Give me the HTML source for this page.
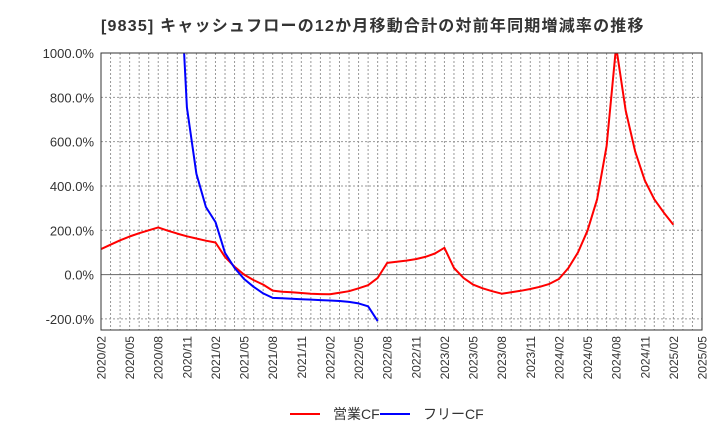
<!DOCTYPE html>
<html><head><meta charset="utf-8"><style>
body{margin:0;background:#fff;font-family:"Liberation Sans","Noto Sans CJK JP",sans-serif}
</style></head><body>
<svg width="720" height="440" xmlns="http://www.w3.org/2000/svg" font-family="Liberation Sans, Noto Sans CJK JP, sans-serif">
<text x="101" y="31" font-size="16" font-weight="bold" fill="#333" letter-spacing="1.2">[9835]  キャッシュフローの12か月移動合計の対前年同期増減率の推移</text>
<defs><clipPath id="pc"><rect x="101" y="53" width="601" height="277"/></clipPath></defs>
<g id="grid"></g><g id="axes"></g>
<g id="series" clip-path="url(#pc)"></g>
<rect x="101" y="53" width="601" height="277" fill="none" stroke="#333" stroke-width="1"/>
<g>
<line x1="290" y1="414" x2="320" y2="414" stroke="#f00" stroke-width="2"/>
<text x="333" y="419" font-size="14" fill="#333">営業CF</text>
<line x1="380" y1="414" x2="410" y2="414" stroke="#00f" stroke-width="2"/>
<text x="423" y="419" font-size="14" fill="#333">フリーCF</text>
</g>
</svg>
<script>
const xLabels=["2020/02","2020/05","2020/08","2020/11","2021/02","2021/05","2021/08","2021/11","2022/02","2022/05","2022/08","2022/11","2023/02","2023/05","2023/08","2023/11","2024/02","2024/05","2024/08","2024/11","2025/02","2025/05"];
const yTicks=[-200,0,200,400,600,800,1000];
const opCF=[115,135,155,172,187,200,213,198,185,173,163,153,145,80,35,0,-25,-45,-72,-77,-80,-83,-86,-88,-89,-82,-75,-62,-48,-15,53,58,63,70,80,95,121,30,-15,-45,-62,-75,-86,-80,-73,-65,-55,-42,-20,30,100,198,340,580,1030,740,555,425,340,280,225];
const freeCF=[null,null,null,null,null,null,null,null,1600,755,455,305,237,98,30,-20,-55,-85,-105,-107,-109,-111,-113,-115,-117,-119,-123,-130,-143,-210];
const X0=101,X1=702,Y0=330,Y1=53,NM=63,YMIN=-250,YMAX=1000;
const xs=i=>X0+(X1-X0)*i/NM;
const ys=v=>Y0-(v-YMIN)/(YMAX-YMIN)*(Y0-Y1);
const NS="http://www.w3.org/2000/svg";
function mk(t,a,p){const e=document.createElementNS(NS,t);for(const k in a)e.setAttribute(k,a[k]);p.appendChild(e);return e;}
const grid=document.getElementById('grid'),axes=document.getElementById('axes'),ser=document.getElementById('series');
for(let m=1;m<NM;m++){const l=mk('line',{x1:xs(m),x2:xs(m),y1:Y1,y2:Y0,stroke:'#999','stroke-dasharray':'2,2','stroke-width':1},grid);

}
yTicks.forEach(v=>{const y=ys(v);const l=mk('line',{x1:X0,x2:X1,y1:y,y2:y,stroke:v===0?'#666':'#999','stroke-dasharray':v===0?'':'2,2','stroke-width':1},grid);


const t=mk('text',{x:X0-7,y:y+5,'text-anchor':'end','font-size':13,fill:'#333'},axes);t.textContent=v.toFixed(1)+'%';

});
xLabels.forEach((s,i)=>{const x=xs(i*3);const t=mk('text',{x:0,y:0,transform:`translate(${x+4.5},336) rotate(-90)`,'text-anchor':'end','font-size':12,fill:'#333'},axes);t.textContent=s;

});
function line(d,c,name){let p='';d.forEach((v,i)=>{if(v==null)return;p+=(p?'L':'M')+xs(i).toFixed(1)+','+ys(v).toFixed(1);});
const e=mk('path',{d:p,fill:'none',stroke:c,'stroke-width':2,'stroke-linejoin':'round'},ser);

}
line(opCF,'#f00','operating-cf-line');
line(freeCF,'#00f','free-cf-line');
</script>
</body></html>
